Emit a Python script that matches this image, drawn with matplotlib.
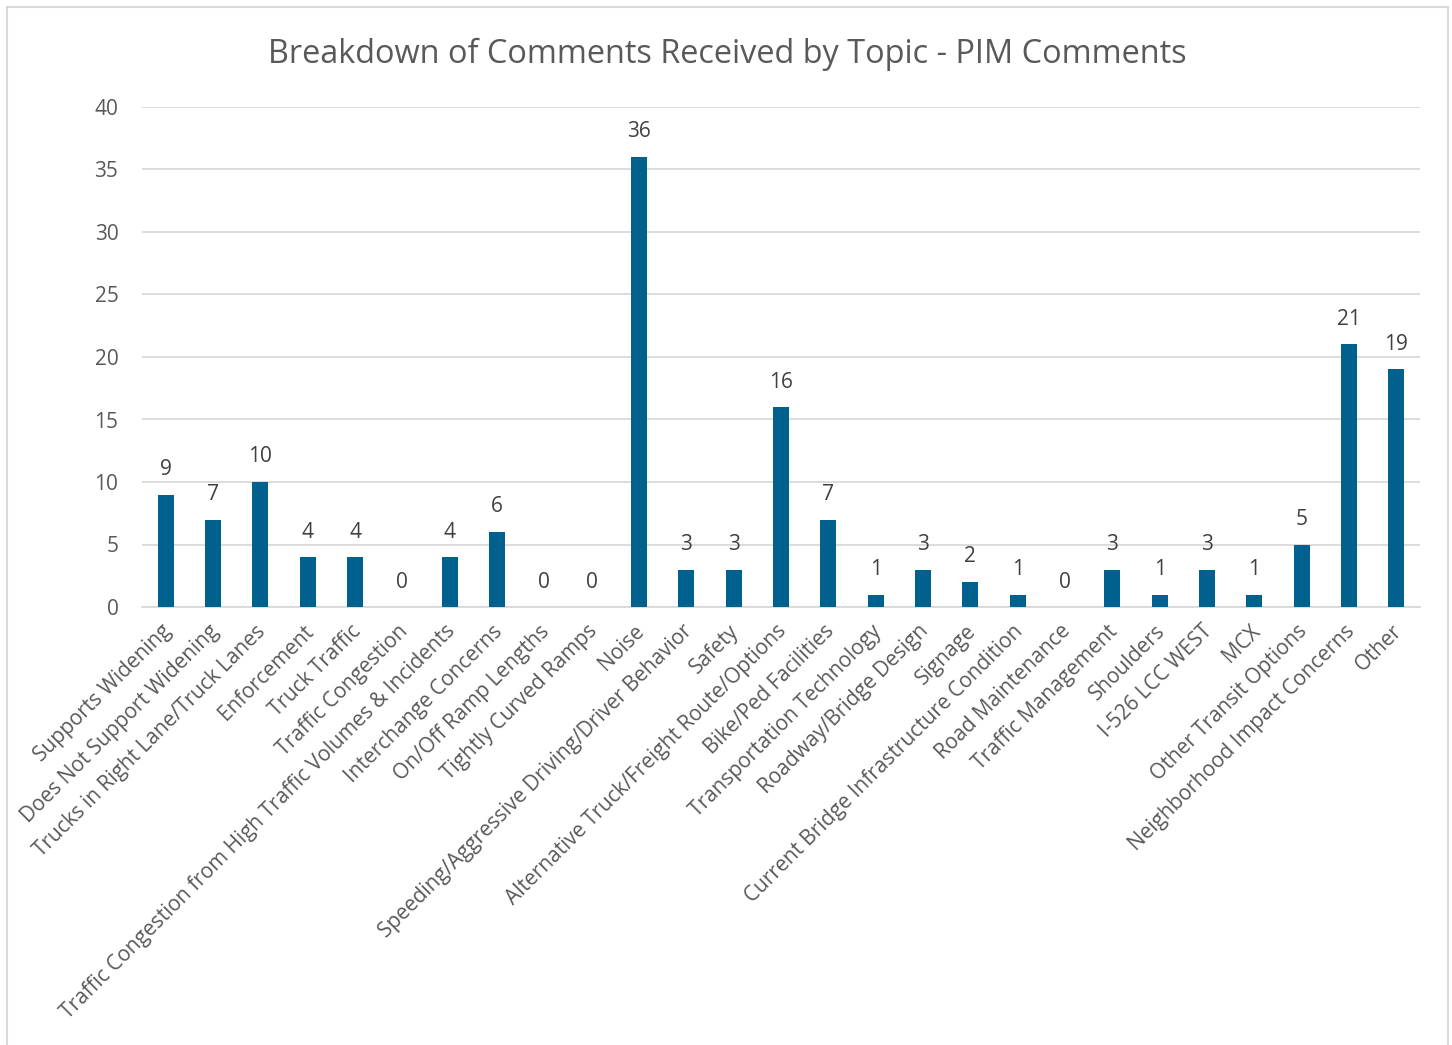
import numpy as np
import matplotlib.pyplot as plt
import matplotlib.transforms as mtransforms
from matplotlib.patches import Rectangle

topics = ['Supports Widening', 'Does Not Support Widening', 'Trucks in Right Lane/Truck Lanes',
          'Enforcement', 'Truck Traffic', 'Traffic Congestion',
          'Traffic Congestion from High Traffic Volumes & Incidents', 'Interchange Concerns',
          'On/Off Ramp Lengths', 'Tightly Curved Ramps', 'Noise',
          'Speeding/Aggressive Driving/Driver Behavior', 'Safety',
          'Alternative Truck/Freight Route/Options', 'Bike/Ped Facilities',
          'Transportation Technology', 'Roadway/Bridge Design', 'Signage',
          'Current Bridge Infrastructure Condition', 'Road Maintenance', 'Traffic Management',
          'Shoulders', 'I-526 LCC WEST', 'MCX', 'Other Transit Options',
          'Neighborhood Impact Concerns', 'Other']
counts = [9, 7, 10, 4, 4, 0, 4, 6, 0, 0, 36, 3, 3, 16, 7, 1, 3, 2, 1, 0, 3, 1, 3, 1, 5, 21, 19]

plt.rcParams['font.family'] = ['Open Sans', 'DejaVu Sans']
txt = '#595959'
grid = '#D9D9D9'
bar_color = '#00618F'

fig = plt.figure(figsize=(14.52, 10.45), dpi=100)
fig.patches.append(Rectangle((7/1452, -0.01), 1441/1452, 1.01 - 7/1045, transform=fig.transFigure,
                             fill=False, edgecolor=grid, linewidth=1.5))
ax = fig.add_axes([142/1452, 1 - 607/1045, 1278/1452, 500/1045])

x = np.arange(len(topics))
bars = ax.bar(x, counts, width=0.34, color=bar_color, zorder=3)
for xi, v in zip(x, counts):
    ax.text(xi, v + 2.0, str(v), ha='center', va='center', fontsize=15, color='#404040')

ax.set_xlim(-0.5, len(topics) - 0.5)
ax.set_ylim(0, 40)
ax.set_yticks(range(0, 41, 5))
ax.yaxis.grid(True, color=grid, linewidth=1.3, zorder=0)
ax.tick_params(axis='y', length=0, labelsize=15, labelcolor=txt, pad=17)
ax.set_xticks(x)
ax.set_xticklabels(topics, rotation=45, ha='right', va='top', rotation_mode='anchor',
                   fontsize=15, color=txt)
ax.tick_params(axis='x', length=0, pad=10)
# nudge the rotated labels a little to the left
shift = mtransforms.ScaledTranslation(-5/100, 0, fig.dpi_scale_trans)
for lbl in ax.get_xticklabels():
    lbl.set_transform(lbl.get_transform() + shift)
for s in ['top', 'right', 'left']:
    ax.spines[s].set_visible(False)
ax.spines['bottom'].set_color(grid)
ax.spines['bottom'].set_linewidth(1.3)

fig.text(727/1452, 1 - 54/1045, 'Breakdown of Comments Received by Topic - PIM Comments',
         ha='center', va='center', fontsize=23.4, color=txt)

fig.savefig('out.png', dpi=100)
